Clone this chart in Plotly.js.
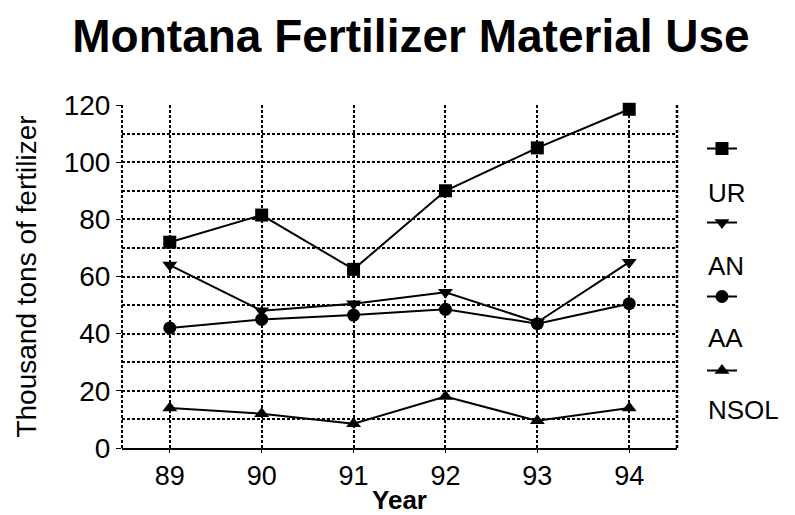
<!DOCTYPE html>
<html>
<head>
<meta charset="utf-8">
<script src="https://cdn.plot.ly/plotly-3.0.1.min.js"></script>
<style>html,body{margin:0;padding:0;background:#fff;}#chart{width:795px;height:515px;}</style>
</head>
<body>
<div id="chart"></div>
<script>
var years = [89, 90, 91, 92, 93, 94];
var seriesNames = ["UR", "AN", "AA", "NSOL"];
var UR   = [72, 81.5, 62.5, 90, 105, 118.5];
var AN   = [64, 48, 50.5, 54.5, 44, 65];
var AA   = [42, 45, 46.5, 48.5, 43.5, 50.5];
var NSOL = [14, 12, 8.5, 18, 9.5, 14];
var yTicks = [0, 20, 40, 60, 80, 100, 120];

var symbols = ["square", "triangle-down", "circle", "triangle-up"];
var allValues = [UR, AN, AA, NSOL];

var traces = allValues.map(function (vals, i) {
  return {
    x: years, y: vals, name: " ", type: "scatter", mode: "lines+markers",
    legendgroup: seriesNames[i],
    line: {color: "#000", width: 2},
    marker: {symbol: symbols[i], size: 13, color: "#000"},
    cliponaxis: false
  };
});

var FONT = "Liberation Sans, Arial, sans-serif";
var labelY = [0.743, 0.531, 0.321, 0.111];
var annotations = seriesNames.map(function (n, i) {
  return {text: n, xref: "paper", yref: "paper", x: 1.052, y: labelY[i],
          xanchor: "left", yanchor: "middle", showarrow: false,
          font: {family: FONT, size: 26, color: "#000"}};
});

var GRID = "3px,2px";
var layout = {
  width: 795, height: 515,
  margin: {l: 122, r: 118, t: 105, b: 67},
  paper_bgcolor: "#fff", plot_bgcolor: "#fff",
  title: {text: "<b>Montana Fertilizer Material Use</b>",
          font: {family: FONT, size: 46, color: "#000"},
          x: 0.517, xanchor: "center", y: 0.93, yanchor: "middle"},
  xaxis: {
    range: [88.48, 94.52], tickmode: "array", tickvals: years,
    ticktext: years.map(String),
    showgrid: true, gridcolor: "#000", griddash: GRID, gridwidth: 2,
    zeroline: false, showline: true, linecolor: "#000", linewidth: 2,
    ticks: "outside", ticklen: 3, tickcolor: "#000",
    tickfont: {family: FONT, size: 27, color: "#000"},
    title: {text: "<b>Year</b>", font: {family: FONT, size: 26, color: "#000"}, standoff: 7}
  },
  yaxis: {
    range: [0, 120], tickmode: "array", tickvals: yTicks,
    showgrid: true, gridcolor: "#000", griddash: GRID, gridwidth: 2,
    minor: {dtick: 10, showgrid: true, gridcolor: "#000", griddash: GRID, gridwidth: 2},
    zeroline: false, showline: false,
    ticks: "outside", ticklen: 5, tickcolor: "#000",
    tickfont: {family: FONT, size: 28, color: "#000"},
    title: {text: "Thousand tons of fertilizer", font: {family: FONT, size: 28, color: "#000"}, standoff: 18}
  },
  shapes: [
    {type: "line", xref: "paper", yref: "paper", x0: 0, x1: 0, y0: 0, y1: 1,
     line: {color: "#000", width: 2, dash: GRID}},
    {type: "line", xref: "paper", yref: "paper", x0: 1, x1: 1, y0: 0, y1: 1,
     line: {color: "#000", width: 2.5, dash: GRID}}
  ],
  showlegend: true,
  legend: {x: 1.045, xanchor: "left", y: 0.93, yanchor: "top",
           font: {family: FONT, size: 20, color: "#000"},
           tracegroupgap: 45, bgcolor: "rgba(0,0,0,0)"},
  annotations: annotations
};

Plotly.newPlot("chart", traces, layout, {displayModeBar: false, staticPlot: true});
</script>
</body>
</html>
